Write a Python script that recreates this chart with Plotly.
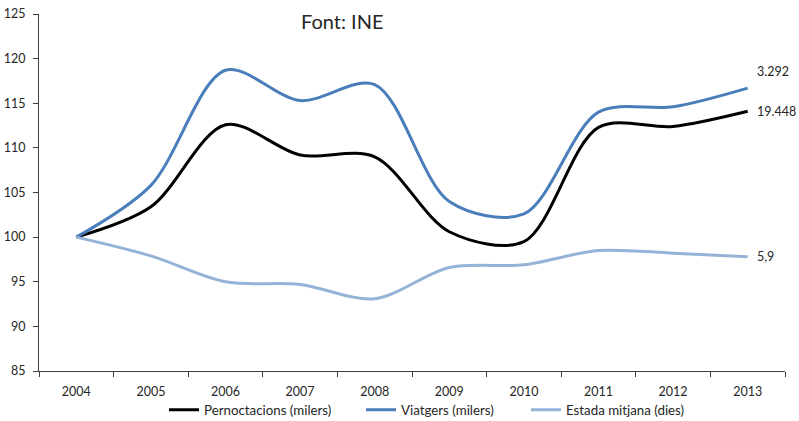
import plotly.graph_objects as go

years = ["2004", "2005", "2006", "2007", "2008", "2009", "2010", "2011", "2012", "2013"]
pernoctacions = [100, 103.4, 112.6, 109.2, 109.0, 100.6, 99.5, 112.3, 112.4, 114.1]
viatgers = [100, 105.8, 118.7, 115.3, 117.1, 104.0, 102.6, 114.0, 114.6, 116.7]
estada = [100, 97.9, 95.0, 94.7, 93.1, 96.6, 96.9, 98.5, 98.2, 97.8]
names = ["Pernoctacions (milers)", "Viatgers (milers)", "Estada mitjana (dies)"]
end_labels = ["19.448", "3.292", "5,9"]
colors = ["#000000", "#4A7EBB", "#95B3D7"]

FONT = "Lato"
TXT = "#262626"
W, H = 799, 421
PL, PT, PR, PB = 39, 14, 14, 50
plot_w = W - PL - PR
plot_h = H - PT - PB

fig = go.Figure()
series = [pernoctacions, viatgers, estada]
legends = ["legend", "legend2", "legend3"]
for s, n, c, lg in zip(series, names, colors, legends):
    fig.add_trace(go.Scatter(x=years, y=s, name=n, mode="lines", legend=lg,
                             line=dict(color=c, width=3, shape="spline", smoothing=0.9)))

yshifts = [0, 17, 0]
last = len(years) - 1
for s, lab, ys in zip(series, end_labels, yshifts):
    fig.add_annotation(x=last, y=s[-1], text=lab, showarrow=False,
                       xanchor="left", xshift=7, yshift=ys,
                       font=dict(family=FONT, size=12.5, color=TXT))

fig.add_annotation(x=(342 - PL) / plot_w, y=1.0, xref="paper", yref="paper", text="Font: INE",
                   showarrow=False, xanchor="center", yanchor="middle", yshift=-7,
                   font=dict(family=FONT, size=20, color=TXT))

leg_common = dict(orientation="h", yanchor="middle", xanchor="left",
                  y=(plot_h + PT - 410) / plot_h,
                  font=dict(family=FONT, size=13.3, color=TXT), itemwidth=30,
                  bgcolor="rgba(0,0,0,0)", borderwidth=0)
leg_x = [164, 361, 526]
fig.update_layout(
    width=W, height=H,
    margin=dict(l=PL, r=PR, t=PT, b=PB, autoexpand=False),
    paper_bgcolor="white", plot_bgcolor="white",
    font=dict(family=FONT, size=12.5, color=TXT),
    showlegend=True,
    legend=dict(leg_common, x=(leg_x[0] - PL) / plot_w),
    legend2=dict(leg_common, x=(leg_x[1] - PL) / plot_w),
    legend3=dict(leg_common, x=(leg_x[2] - PL) / plot_w),
)
fig.update_xaxes(type="category", showline=True, linecolor="#404040", linewidth=1,
                 ticks="outside", ticklen=5, tickcolor="#404040", tickson="boundaries",
                 showgrid=False, zeroline=False, range=[-0.5, 9.5], automargin=False,
                 ticklabelstandoff=9, ticklabeloverflow="allow")
fig.update_yaxes(range=[85, 125], dtick=5, showline=True, linecolor="#404040", linewidth=1,
                 ticks="outside", ticklen=5, tickcolor="#404040", automargin=False,
                 showgrid=False, zeroline=False, tickfont=dict(size=12.5),
                 ticklabelstandoff=5, ticklabeloverflow="allow")

fig.write_html("out.html", config={"displayModeBar": False},
               post_script="document.body.style.margin='0';document.body.style.overflow='hidden';")
